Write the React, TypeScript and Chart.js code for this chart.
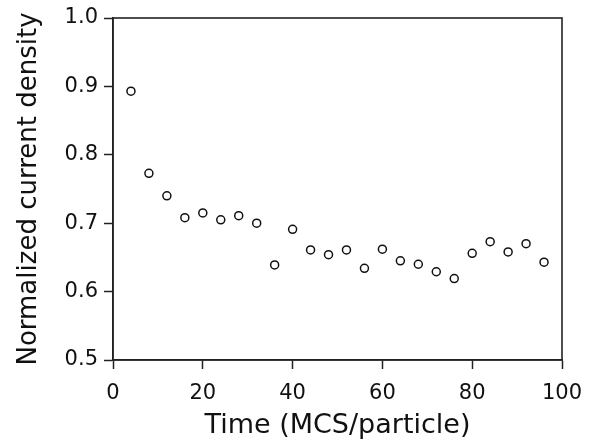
import React, { useEffect, useRef } from "react";
import { Chart, registerables } from "chart.js";

Chart.register(...registerables);

const timeValues = [4, 8, 12, 16, 20, 24, 28, 32, 36, 40, 44, 48, 52, 56, 60, 64, 68, 72, 76, 80, 84, 88, 92, 96];
const densityValues = [0.893, 0.773, 0.740, 0.708, 0.715, 0.705, 0.711, 0.700, 0.639, 0.691, 0.661, 0.654, 0.661, 0.634, 0.662, 0.645, 0.640, 0.629, 0.619, 0.656, 0.673, 0.658, 0.670, 0.643];
const xTicks = [0, 20, 40, 60, 80, 100];
const yTicks = [0.5, 0.6, 0.7, 0.8, 0.9, 1.0];

const FONT = "'DejaVu Sans', sans-serif";

const frame = {
  id: "frame",
  afterDatasetsDraw(chart: any) {
    const { ctx, chartArea } = chart;
    ctx.save();
    ctx.strokeStyle = "#222";
    ctx.lineWidth = 1.6;
    ctx.strokeRect(chartArea.left, chartArea.top, chartArea.right - chartArea.left, chartArea.bottom - chartArea.top);
    ctx.restore();
  },
};

export default function App() {
  const ref = useRef<HTMLCanvasElement | null>(null);
  useEffect(() => {
    if (!ref.current) return;
    const chart = new Chart(ref.current, {
      type: "scatter",
      data: {
        datasets: [
          {
            data: timeValues.map((t, i) => ({ x: t, y: densityValues[i] })),
            pointStyle: "circle",
            pointRadius: 4,
            pointBorderWidth: 1.5,
            pointBorderColor: "#111",
            pointBackgroundColor: "#fff",
            showLine: false,
          },
        ],
      },
      plugins: [frame],
      options: {
        animation: false,
        responsive: false,
        events: [],
        layout: { padding: { top: 18, right: 28, left: 0, bottom: 0 } },
        plugins: { legend: { display: false }, tooltip: { enabled: false } },
        scales: {
          x: {
            type: "linear",
            min: 0,
            max: 100,
            afterBuildTicks: (s: any) => { s.ticks = xTicks.map((v) => ({ value: v })); },
            afterFit: (s: any) => { s.height = 82; s.paddingRight = 0; s.paddingLeft = 0; },
            grid: { drawOnChartArea: false, tickLength: 9, tickColor: "#222", tickWidth: 1.5 },
            border: { display: true, color: "#222", width: 1.5 },
            ticks: { color: "#111", font: { family: FONT, size: 21 }, padding: 12, maxRotation: 0 },
            title: { display: true, text: "Time (MCS/particle)", color: "#111", font: { family: FONT, size: 27 }, padding: { top: 0, bottom: 0 } },
          },
          y: {
            type: "linear",
            min: 0.5,
            max: 1.0,
            afterBuildTicks: (s: any) => { s.ticks = yTicks.map((v) => ({ value: v })); },
            afterFit: (s: any) => { s.width = 113; s.paddingTop = 0; s.paddingBottom = 0; },
            grid: { drawOnChartArea: false, tickLength: 9, tickColor: "#222", tickWidth: 1.5 },
            border: { display: true, color: "#222", width: 1.5 },
            ticks: { color: "#111", font: { family: FONT, size: 21 }, padding: 6, callback: (v: any) => Number(v).toFixed(1) },
            title: { display: true, text: "Normalized current density", color: "#111", font: { family: FONT, size: 26 }, padding: { top: 14, bottom: 0 } },
          },
        },
      },
    });
    return () => chart.destroy();
  }, []);
  return (
    <div style={{ position: "fixed", left: 0, top: 0, width: 590, height: 442, background: "#fff" }}>
      <canvas ref={ref} width={590} height={442} style={{ width: 590, height: 442 }} />
    </div>
  );
}
